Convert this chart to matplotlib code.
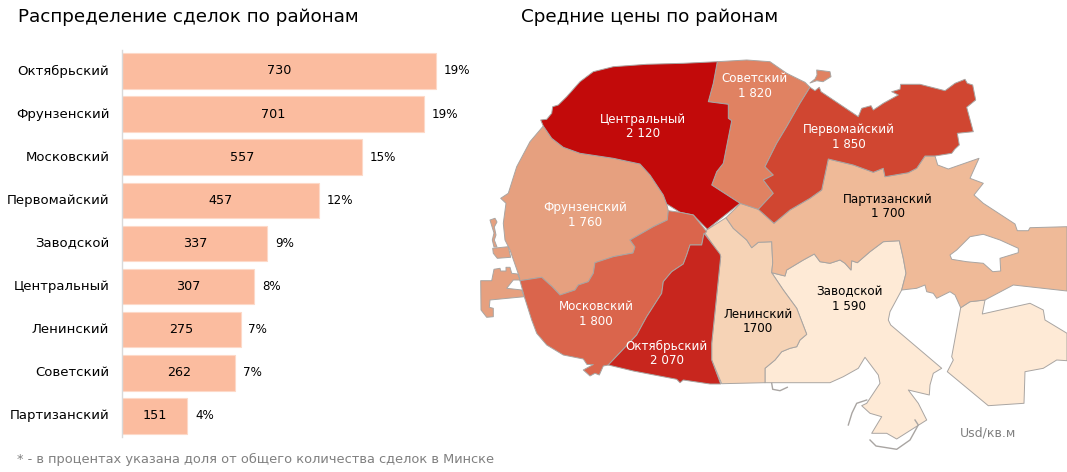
import matplotlib
matplotlib.use("Agg")
import matplotlib.pyplot as plt

plt.rcParams['font.family'] = ['DejaVu Sans']

# ---- bar chart data
districts = ["Октябрьский", "Фрунзенский", "Московский", "Первомайский", "Заводской",
             "Центральный", "Ленинский", "Советский", "Партизанский"]
deals = [730, 701, 557, 457, 337, 307, 275, 262, 151]
shares = ["19%", "19%", "15%", "12%", "9%", "8%", "7%", "7%", "4%"]

# ---- map labels
map_names = ["Центральный", "Советский", "Первомайский", "Фрунзенский", "Партизанский",
             "Заводской", "Ленинский", "Московский", "Октябрьский"]
map_prices = ["2 120", "1 820", "1 850", "1 760", "1 700", "1 590", "1700", "1 800", "2 070"]
map_label_colors = ["white", "white", "white", "white", "black", "black", "black", "white", "white"]
map_label_x = [643, 755, 849, 585, 888, 849, 758, 596, 667]
map_label_y = [126, 86, 137, 215, 206, 299, 321, 314, 353]

# ---- map outlines (map units)
central = [(717.3,61.7),(683.3,63.3),(646.7,64.3),(613.3,66.7),(593.3,71.7),(580,81.7),(566.7,96.7),
           (558.3,105),(552.7,106.7),(551.7,113.3),(546.7,119.3),(540.7,120),(543.3,126),(551.7,138.3),
           (563.3,147.3),(580,153.3),(613.3,158.3),(640,164),(650,175),(663.3,195),(666.7,204),(680,212.3),
           (693.3,215),(707.3,229.3),(740,203.3),(711.7,185),(716.7,171.7),(723.3,163.3),(731.7,120.7),
           (728.3,118.3),(728.3,104.3),(708.3,101.7),(713.3,83.3)]
sovetsky = [(717.3,61.7),(746.7,60),(770,61.7),(786.7,73.3),(805,82.3),(810,87.3),(800,103.3),(786.7,126.7),
            (776.7,143.3),(770,156.7),(765,166.7),(773.3,175),(763.3,180),(773.3,193.3),(758.3,209.3),
            (740,203.3),(711.7,185),(716.7,171.7),(723.3,163.3),(731.7,120.7),(728.3,118.3),(728.3,104.3),
            (708.3,101.7),(713.3,83.3)]
sovetsky_island = [(816.7,70),(830,71.7),(831,76.7),(823,81.7),(816.7,80.7),(810,83),(815,79),(817,75)]
pervomaisky = [(810,87.3),(815,90.7),(819.3,87.3),(821,91.7),(858.3,116.7),(861.7,108.3),(871,105.7),(873.3,110),
               (883.3,103.3),(898.3,95),(891.7,91.7),(900,89.3),(900.7,84.3),(920,84.3),(945,90.7),(955,83.3),
               (965,79.3),(967.3,83.3),(972.7,85),(975.7,100),(966.7,107.3),(973.3,131.7),(957.3,133.3),
               (959.3,145),(955,149),(951.7,153.3),(935,156),(925,156),(916.7,168.3),(908.3,172.7),(885,176.7),
               (883.3,168.3),(873.3,172.3),(853.3,165),(828.3,159),(821.7,190),(810,198.3),(790,210),(774,223.3),
               (758.3,209.3),(773.3,193.3),(763.3,180),(773.3,175),(765,166.7),(770,156.7),(776.7,143.3),
               (786.7,126.7),(800,103.3)]
partizansky = [(726,217.7),(740.7,203.3),(758.3,209.3),(774,223.3),(790,210),(810,198.3),(821.7,190),(828.3,159),
               (853.3,165),(873.3,172.3),(883.3,168.3),(885,176.7),(908.3,172.7),(916.7,168.3),(925,156),(935,156),
               (937.7,165),(948.3,169),(979,158.3),(970,178.3),(983.3,183.3),(974,195),(983.3,203.3),(1015,224),
               (1017.3,230.7),(1028.3,230.7),(1030,227.7),(1067,226.7),(1067,291),(1013.3,285),(985,300),(970,301.7),
               (960.7,307.7),(955,295),(950,291.7),(936.7,298.3),(933.3,293.3),(926.7,291.7),(925,285),(916.7,288.3),
               (901.7,290),(906,273.3),(903.3,258.3),(899.3,240.7),(883.3,241.7),(870,251.7),(857.3,262.7),
               (851.7,260.7),(851,270),(845,263.3),(840,260),(830,263.3),(820,261.7),(814.3,254),(803.3,260),
               (786.7,270),(785,276),(771.7,272.7),(772.7,263),(771.7,241.7),(758.3,242.3),(751.7,247.7),
               (746.7,240),(733.3,228.3)]
partizansky_lake = [(950,255),(956.7,250),(970,236.7),(983.3,234.3),(1000,240),(1018.3,248.3),(1018.3,252.7),
                    (1000,258.3),(1000.7,271),(992.7,271.7),(983.3,263.3),(966.7,261.7),(951.7,259.3)]
leninsky = [(704,231.7),(726,217.7),(733.3,228.3),(746.7,240),(751.7,247.7),(758.3,242.3),(771.7,241.7),(772.7,263),
            (771.7,272.7),(783.3,290),(796.7,308.3),(806.7,334.3),(800,340),(796.7,346.7),(790,348.3),(781.7,351.7),
            (775,360),(765,368.3),(765,382.7),(721.7,383.7),(711.7,360),(711.7,343.3),(720.7,256.7),(719.3,254)]
zavodskoy = [(771.7,272.7),(785,276),(786.7,270),(803.3,260),(814.3,254),(820,261.7),(830,263.3),(840,260),(845,263.3),
             (851,270),(851.7,260.7),(857.3,262.7),(870,251.7),(883.3,241.7),(899.3,240.7),(903.3,258.3),(906,273.3),
             (901.7,290),(890,311.7),(888.3,320),(890.7,325),(941.7,368.3),(933.3,373.3),(930,385),(929.3,395),
             (908.3,390),(918.3,403.3),(926.7,420),(896.7,439),(886.7,433.3),(871.7,433.3),(881.7,416.7),(870,413.3),
             (861.7,405.7),(866.7,403.3),(880,383.3),(878.3,375),(865,357.3),(858.3,368.3),(843.3,376.7),(830,382.7),
             (765,382.7),(765,368.3),(775,360),(781.7,351.7),(790,348.3),(796.7,346.7),(800,340),(806.7,334.3),
             (796.7,308.3),(783.3,290)]
zavodskoy_east = [(960.7,307.7),(970,301.7),(985,300),(982.3,314),(1030,303.3),(1043.3,310),(1045,320),(1067,333.3),
                  (1067,360.7),(1056.7,360),(1043.3,368.3),(1025,371.7),(1024,403.3),(988.3,405.7),(947.3,371.7),
                  (953.3,360),(951.7,356.7)]
frunzensky = [(543.3,126),(530,141.7),(516.7,166.7),(508.3,193.3),(500.7,198.3),(506,203.3),(503.3,223.3),(505,240),
              (510,250),(519.3,276.7),(520,280.7),(541.7,277.3),(548.3,283.3),(552,286.5),(560,295),(575,290),
              (578.3,285),(588.3,281.7),(593.3,273.3),(595,262.7),(613.3,256.7),(633,253),(635,247),(630,240),
              (653.3,226.7),(667.3,220),(668.3,210.7),(666.7,204),(663.3,195),(650,175),(640,164),(613.3,158.3),
              (580,153.3),(563.3,147.3),(551.7,138.3)]
frunzensky_west = [(480.7,280.7),(491.7,280.7),(494,269.3),(500,268.3),(500.7,271),(506,271),(506,267.3),(510,267.3),
                   (511.7,273.3),(517.7,274),(520,280),(513.3,280),(506.7,288.3),(521.7,290),(524.3,296.7),(490,300),
                   (489.3,307.3),(493.3,308.3),(493.3,316.7),(486.7,317.3),(481,310)]
frunzensky_pond = [(492.7,248.3),(508.3,246.7),(510.7,257.3),(497.3,258.3),(493.3,253.3)]
frunzensky_stem = [(490,220),(495,218.3),(497,222),(494.3,227),(496,235),(494.3,240),(497,247),(494,247),(492.3,240),
                   (494,233),(491.5,225)]
moskovsky = [(520,280.7),(541.7,277.3),(548.3,283.3),(552,286.5),(560,295),(575,290),(578.3,285),(588.3,281.7),
             (593.3,273.3),(595,262.7),(613.3,256.7),(633,253),(635,247),(630,240),(653.3,226.7),(667.3,220),
             (668.3,210.7),(680,212.3),(693.3,215),(706.7,231.7),(704,234),(701.7,245),(690,245),(686.7,255),
             (683.3,264),(671.7,271.7),(663.3,281.7),(661.7,293.3),(646.7,316.7),(636.7,335),(608.3,365),(603.3,366),
             (599.3,375),(595,373.3),(590,376),(583.3,370),(593.3,364.5),(587,364.5),(583.3,359),(563.3,355),
             (546.7,345),(536.7,333.3),(531.7,320),(524.3,296.7)]
oktyabrsky = [(704,233.3),(720,254),(720.7,256.7),(711.7,343.3),(711.7,360),(720.7,384),(710,384),(683.3,380),(680,382.7),
              (676.7,379.3),(633.3,371),(608.3,365),(636.7,335),(646.7,316.7),(661.7,293.3),(663.3,281.7),(671.7,271.7),
              (683.3,264),(686.7,255),(690,245),(701.7,245)]
pier_west = [(848.3,425),(852,413),(856.7,403.3),(866.7,400)]
pier_south = [(870,440),(876,446),(896.7,449.3),(910,440),(918.3,425),(915,420)]
pier_hook = [(771.7,383.3),(772.7,389.3),(780,390.7),(787.3,387.3)]

map_shapes = [
    (frunzensky_stem, "#E6A07F"), (frunzensky_pond, "#E6A07F"), (frunzensky_west, "#E6A07F"), (frunzensky, "#E6A07F"),
    (zavodskoy_east, "#FEEAD6"), (zavodskoy, "#FEEAD6"), (leninsky, "#F6D3B6"),
    (partizansky, "#EFBA98"), (partizansky_lake, "white"), (sovetsky_island, "#E08262"), (sovetsky, "#E08262"),
    (pervomaisky, "#D04631"), (central, "#C20A0A"), (moskovsky, "#DA654C"), (oktyabrsky, "#C8261E"),
]
map_piers = [pier_west, pier_south, pier_hook]

W, H = 1067, 472
fig = plt.figure(figsize=(W / 100, H / 100), dpi=100, facecolor="white")

# ---- map layer, one unit per pixel
m = fig.add_axes([0, 0, 1, 1])
m.set_xlim(0, W)
m.set_ylim(H, 0)
m.axis("off")
for pts, col in map_shapes:
    m.fill([p[0] for p in pts], [p[1] for p in pts], facecolor=col, edgecolor="#A9A5A2", linewidth=0.7, joinstyle="round")
for pts in map_piers:
    m.plot([p[0] for p in pts], [p[1] for p in pts], color="#A9A5A2", lw=1.0)

for name, price, c, x, y in zip(map_names, map_prices, map_label_colors, map_label_x, map_label_y):
    m.text(x, y - 7, name, color=c, fontsize=8.6, ha="center", va="center")
    m.text(x, y + 7.5, price, color=c, fontsize=8.6, ha="center", va="center")

m.text(988, 433, "Usd/кв.м", color="#808080", fontsize=9.0, ha="center", va="center")
m.text(18, 22, "Распределение сделок по районам", color="black", fontsize=13.2, ha="left", va="baseline")
m.text(521, 22, "Средние цены по районам", color="black", fontsize=13.2, ha="left", va="baseline")
m.text(17, 462.5, "* - в процентах указана доля от общего количества сделок в Минске", color="#808080",
       fontsize=9.4, ha="left", va="baseline")

# ---- bar chart
ax = fig.add_axes([122.5 / W, 1 - 437 / H, 343.6 / W, 387 / H])
ax.patch.set_alpha(0)
ax.barh(range(len(districts)), deals, height=0.825, color="#FBBC9F", edgecolor="#FDD9C8", linewidth=0.8)
ax.set_xlim(0, 800)
ax.set_ylim(8.49, -0.487)
for s in ("top", "right", "bottom"):
    ax.spines[s].set_visible(False)
ax.spines["left"].set_color("#D9D9D9")
ax.spines["left"].set_linewidth(1.0)
ax.set_xticks([])
ax.set_yticks(range(len(districts)))
ax.set_yticklabels(districts, fontsize=9.5, color="black", va="center")
ax.tick_params(axis="y", length=0, pad=9.5)
for i, (v, s) in enumerate(zip(deals, shares)):
    ax.text(v / 2, i, str(v), ha="center", va="center", fontsize=9.2, color="black")
    ax.annotate(s, (v, i), xytext=(5.5, 0), textcoords="offset points", ha="left", va="center",
                fontsize=8.6, color="black")

fig.savefig("out.png", dpi=100)
